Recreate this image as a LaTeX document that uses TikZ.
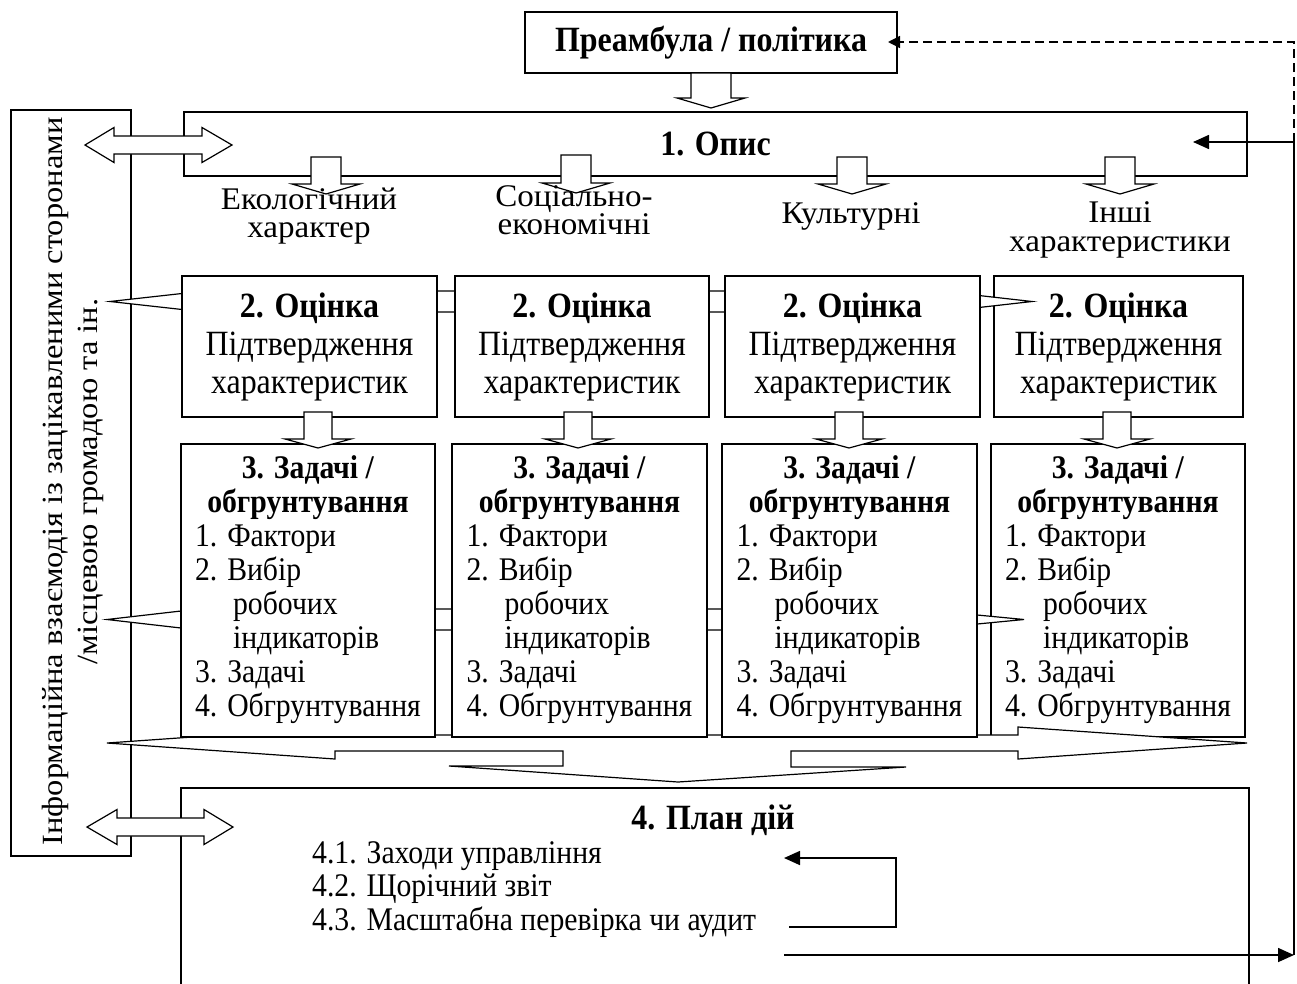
\documentclass[tikz,border=0pt]{standalone}
\usepackage{fontspec}
\setmainfont{Liberation Serif}[FakeStretch=0.9]
\newfontfamily\rotfont{Liberation Serif}[FakeStretch=1.11]
\newfontfamily\catfont{Liberation Serif}[FakeStretch=1.05]
\usetikzlibrary{arrows.meta,calc}
\newcommand{\dnblk}[6]{\draw[blk] (#1-#5,#2) -- (#1+#5,#2) -- (#1+#5,#3) -- (#1+#6,#3) -- (#1,#4) -- (#1-#6,#3) -- (#1-#5,#3) -- cycle;}
\newcommand{\lrblk}[7]{\draw[blk] (#1,#5) -- (#2,#5-#7) -- (#2,#5-#6) -- (#3,#5-#6) -- (#3,#5-#7) -- (#4,#5) -- (#3,#5+#7) -- (#3,#5+#6) -- (#2,#5+#6) -- (#2,#5+#7) -- cycle;}
\newcommand{\taskbody}{\begin{tabular}{@{}l@{}}\multicolumn{1}{@{}c@{}}{\textbf{3. Задачі /}}\\\multicolumn{1}{@{}c@{}}{\textbf{обгрунтування}}\\1. Фактори\\2. Вибір\\\hspace*{38pt}робочих\\\hspace*{38pt}індикаторів\\3. Задачі\\4. Обгрунтування\end{tabular}}
\newcommand{\assessbody}{\textbf{2. Оцінка}\\Підтвердження\\характеристик}
\begin{document}
\begin{tikzpicture}[x=1pt,y=-1pt,
  box/.style={draw, fill=white, inner sep=0pt, line width=1.4pt},
  big/.style={inner sep=0pt, font=\fontsize{35.5}{38}\selectfont},
  bigb/.style={inner sep=0pt, font=\fontsize{35.5}{38}\selectfont\bfseries},
  cat/.style={inner sep=0pt, align=center, font=\catfont\fontsize{31.5}{28.5}\selectfont},
  small/.style={inner sep=0pt, font=\fontsize{33}{34}\selectfont},
  blk/.style={draw, fill=white, line width=1.2pt, line join=miter},
  fb/.style={line width=1.6pt, -{Triangle[length=16pt,width=14pt]}},
  fbd/.style={line width=1.6pt, dash pattern=on 9pt off 5pt, -{Triangle[length=12pt,width=12pt]}},
]
\useasboundingbox (0,0) rectangle (1297,983);

% left information box
\node[box, minimum width=120, minimum height=746] (info) at (71,483) {};
\node[inner sep=0pt, rotate=90, align=center, font=\rotfont\fontsize{29.3}{35}\selectfont] (infotxt) at (72.5,481.5) {Інформаційна взаємодія із зацікавленими сторонами\\/місцевою громадою та ін.};

% preamble and description
\node[box, bigb, minimum width=372, minimum height=61] (pre) at (711,42.5) {Преамбула / політика};
\node[box, bigb, minimum width=1063, minimum height=64] (opys) at (715.5,144) {1. Опис};
\dnblk{711}{73}{98}{108}{20}{34}

% category arrows and labels
\dnblk{326}{157}{184}{194}{15}{34}
\dnblk{576}{155}{183}{193}{15}{34}
\dnblk{852}{157}{184}{194}{15}{34}
\dnblk{1120}{157}{184}{194}{15}{34}
\node[cat] (c1) at (309,216) {Екологічний\\характер};
\node[cat] (c2) at (574,210) {Соціально-\\економічні};
\node[cat] (c3) at (851,216) {Культурні};
\node[cat] (c4) at (1120,230) {Інші\\характеристики};

% rightmost boxes (under the block arrows)
\node[box, big, align=center, minimum width=249, minimum height=141] (o4) at (1118.5,346.5) {\assessbody};
\node[box, small, minimum width=254, minimum height=293] (z4) at (1118,590.5) {\taskbody};

% horizontal block arrows
\lrblk{110}{290}{855}{1032}{301.5}{10.5}{20}
\lrblk{107}{281}{816}{1024}{619.5}{10.5}{20}
\draw[blk] (107,743) -- (335,727) -- (335,735) -- (1018,735) -- (1018,727) -- (1247,743) -- (1018,759) -- (1018,751) -- (791,751) -- (791,767) -- (906,767) -- (678,782) -- (449,766) -- (563,766) -- (563,751) -- (335,751) -- (335,759) -- cycle;

% assessment boxes
\node[box, big, align=center, minimum width=255, minimum height=141] (o1) at (309.5,346.5) {\assessbody};
\node[box, big, align=center, minimum width=254, minimum height=141] (o2) at (582,346.5) {\assessbody};
\node[box, big, align=center, minimum width=255, minimum height=141] (o3) at (852.5,346.5) {\assessbody};

% objective boxes
\node[box, small, minimum width=254, minimum height=293] (z1) at (308,590.5) {\taskbody};
\node[box, small, minimum width=255, minimum height=293] (z2) at (579.5,590.5) {\taskbody};
\node[box, small, minimum width=255, minimum height=293] (z3) at (849.5,590.5) {\taskbody};

% down arrows from assessment to objectives
\dnblk{318}{412}{439}{448}{14}{33}
\dnblk{578}{412}{439}{448}{14}{33}
\dnblk{849}{412}{439}{448}{14}{33}
\dnblk{1117}{412}{439}{448}{14}{33}

% action plan
\node[box, minimum width=1068, minimum height=230] (plan) at (715,903) {};
\node[bigb] (plantitle) at (713,820) {4. План дій};
\node[small, anchor=west] (p1) at (312,856) {4.1. Заходи управління};
\node[small, anchor=west] (p2) at (312,889) {4.2. Щорічний звіт};
\node[small, anchor=west] (p3) at (312,922) {4.3. Масштабна перевірка чи аудит};

% left double arrows
\lrblk{85}{114}{202}{232}{145}{9}{17.5}
\lrblk{87}{117}{204}{233}{827}{9}{17.5}

% feedback connectors
\coordinate (l1) at (789,927);
\coordinate (l2) at (896,927);
\coordinate (l3) at (896,858);
\coordinate (l4) at (784,858);
\draw[fb] (l1) -- (l2) -- (l3) -- (l4);
\coordinate (b1) at (784,955);
\coordinate (rv) at (1294,955);
\coordinate (rm) at (1294,142);
\coordinate (rt) at (1294,42);
\coordinate (oin) at (1193,142);
\coordinate (pin) at (888,42);
\draw[fb] (b1) -- (rv);
\draw[fb] (rv) -- (rm) -- (oin);
\draw[fbd] (rm) -- (rt) -- (pin);
\end{tikzpicture}
\end{document}
